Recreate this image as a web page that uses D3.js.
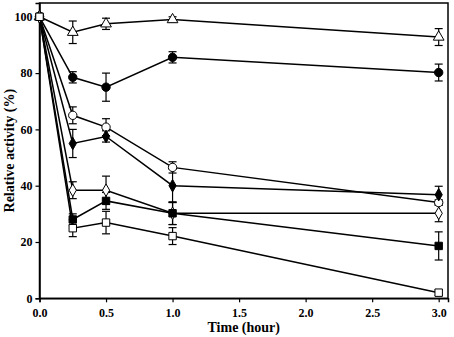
<!DOCTYPE html>
<html>
<head>
<meta charset="utf-8">
<script src="https://cdn.jsdelivr.net/npm/d3@7"></script>
<style>
  body { margin: 0; background: #fff; }
  text { font-family: "Liberation Serif", "Times New Roman", serif; font-weight: bold; }
</style>
</head>
<body>
<script>
var times = [0, 0.25, 0.5, 1, 3];

// mean values per series
var triOpen = [100, 94.5, 97.5, 99, 92.8];
var circFill = [100, 78.5, 75, 85.6, 80.2];
var circOpen = [100, 65, 60.8, 46.5, 34];
var diaFill = [100, 55, 57.5, 40, 36.8];
var diaOpen = [100, 38.4, 38.4, 30.2, 30.2];
var sqFill = [100, 28, 34.6, 30.2, 18.6];
var sqOpen = [100, 24.9, 26.9, 22.1, 2];

// error (+/-) per series
var triOpenErr = [0, 4, 2, 1, 3];
var circFillErr = [0, 2, 5, 2, 3];
var circOpenErr = [0, 3, 3, 2, 1];
var diaFillErr = [0, 5, 2, 6, 3];
var diaOpenErr = [0, 3, 5, 4, 3];
var sqFillErr = [0, 2, 3, 4, 5];
var sqOpenErr = [0, 3, 4, 3, 1];

var xTicks = [0, 0.5, 1, 1.5, 2, 2.5, 3];
var yTicks = [0, 20, 40, 60, 80, 100];

var series = [
  {vals: triOpen, err: triOpenErr, shape: "triangle", fill: "#fff"},
  {vals: circFill, err: circFillErr, shape: "circle", fill: "#000"},
  {vals: circOpen, err: circOpenErr, shape: "circle", fill: "#fff"},
  {vals: diaFill, err: diaFillErr, shape: "diamond", fill: "#000"},
  {vals: diaOpen, err: diaOpenErr, shape: "diamond", fill: "#fff"},
  {vals: sqFill, err: sqFillErr, shape: "square", fill: "#000"},
  {vals: sqOpen, err: sqOpenErr, shape: "square", fill: "#fff"}
];

var width = 454, height = 337;
var padL = 39.5, padR = 448, padT = 3, padB = 298.3;

var svg = d3.select("body").append("svg")
    .attr("width", width)
    .attr("height", height);

var xScale = d3.scaleLinear().domain([0, 3.07]).range([padL, padR]);
var yScale = d3.scaleLinear().domain([0, 104.9]).range([padB, padT]);

// frame
svg.append("rect")
    .attr("x", padL).attr("y", padT)
    .attr("width", padR - padL).attr("height", padB - padT)
    .attr("fill", "none").attr("stroke", "#000").attr("stroke-width", 1.5);

var xAxis = d3.axisBottom(xScale).tickValues(xTicks).tickFormat(d3.format(".1f")).tickSizeOuter(0).tickSize(4);
var yAxis = d3.axisLeft(yScale).tickValues(yTicks).tickFormat(d3.format("d")).tickSizeOuter(0).tickSize(4);

var gx = svg.append("g").attr("transform", "translate(0," + padB + ")").call(xAxis);
var gy = svg.append("g").attr("transform", "translate(" + padL + ",0)").call(yAxis);
[gx, gy].forEach(function (g) {
    g.select(".domain").attr("stroke-width", 1.5);
    g.selectAll(".tick line").attr("stroke-width", 1.2);
    g.selectAll(".tick text").attr("font-size", 12).attr("fill", "#000")
      .style("font-family", "Liberation Serif").style("font-weight", "bold");
});
gx.selectAll(".tick text").attr("dy", "0.95em");

svg.append("text")
    .attr("x", (padL + padR) / 2).attr("y", 332)
    .attr("text-anchor", "middle").attr("font-size", 14)
    .text("Time (hour)");

svg.append("text")
    .attr("transform", "translate(14," + ((padT + padB) / 2) + ") rotate(-90)")
    .attr("text-anchor", "middle").attr("font-size", 14)
    .text("Relative activity (%)");

var line = d3.line()
    .x(function (d, i) { return xScale(times[i]); })
    .y(function (d) { return yScale(d); });

// lines
series.forEach(function (s) {
    svg.append("path")
        .attr("d", line(s.vals))
        .attr("fill", "none").attr("stroke", "#000").attr("stroke-width", 1.5);
});

// error bars
series.forEach(function (s) {
    s.vals.forEach(function (v, i) {
        if (!s.err[i]) return;
        var x = xScale(times[i]);
        var y1 = yScale(v - s.err[i]), y2 = yScale(v + s.err[i]);
        var g = svg.append("g").attr("stroke", "#000").attr("stroke-width", 1.2);
        g.append("line").attr("x1", x).attr("x2", x).attr("y1", y1).attr("y2", y2);
        g.append("line").attr("x1", x - 4).attr("x2", x + 4).attr("y1", y1).attr("y2", y1);
        g.append("line").attr("x1", x - 4).attr("x2", x + 4).attr("y1", y2).attr("y2", y2);
    });
});

// markers
var shapes = {
    triangle: d3.symbolTriangle,
    circle: d3.symbolCircle,
    diamond: d3.symbolDiamond,
    square: d3.symbolSquare
};
var sizes = {triangle: 50, circle: 55, diamond: 45, square: 55};

series.forEach(function (s) {
    var sym = d3.symbol().type(shapes[s.shape]).size(sizes[s.shape]);
    s.vals.forEach(function (v, i) {
        svg.append("path")
            .attr("d", sym())
            .attr("transform", "translate(" + xScale(times[i]) + "," + yScale(v) + ")")
            .attr("fill", s.fill).attr("stroke", "#000").attr("stroke-width", 1);
    });
});
</script>
</body>
</html>
